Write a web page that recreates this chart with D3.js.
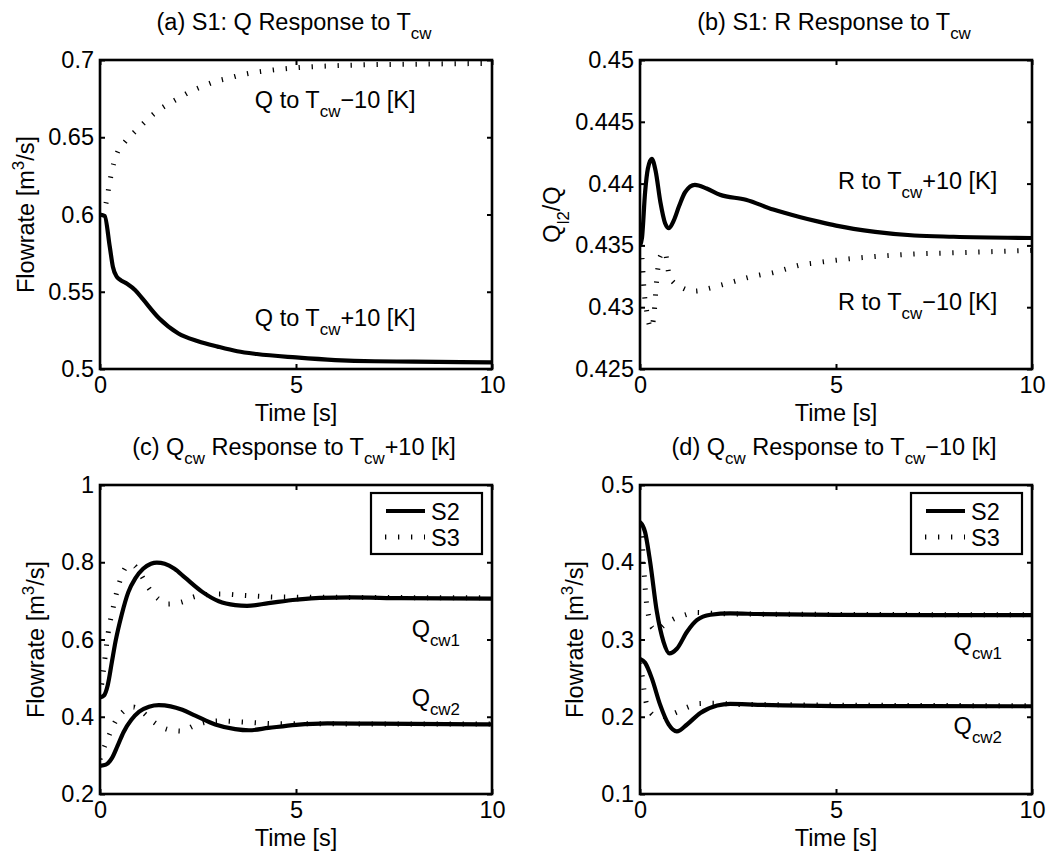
<!DOCTYPE html>
<html><head><meta charset="utf-8">
<script src="https://cdn.jsdelivr.net/npm/d3@7/dist/d3.min.js"></script>
<style>
body{margin:0;background:#fff;}
svg{display:block;font-family:"Liberation Sans",Arial,Helvetica,sans-serif;}
</style></head>
<body>
<svg id="fig" width="1056" height="866"></svg>
<script>
// ---------- DATA ----------
const xTicks = [0, 5, 10];

// (a) S1: Q response
const tA_plus = [0,0.12,0.25,0.33,0.42,0.5,0.7,0.9,1.1,1.5,2,2.5,3,3.5,4,5,6,7,8,10];
const qA_plus = [0.600,0.599,0.579,0.566,0.560,0.558,0.555,0.551,0.545,0.533,0.523,0.518,0.5145,0.5115,0.5097,0.5075,0.5058,0.505,0.5048,0.5043];
const tA_minus = [0,0.1,0.15,0.2,0.27,0.35,0.45,0.64,0.89,1.15,1.4,1.7,2.0,2.3,2.6,2.93,3.26,3.6,3.9,4.24,4.58,5,6,7,8,10];
const qA_minus = [0.600,0.603,0.607,0.614,0.624,0.633,0.6405,0.6471,0.6536,0.66,0.6657,0.6709,0.6752,0.6795,0.6828,0.686,0.6881,0.6903,0.6918,0.693,0.694,0.695,0.6963,0.697,0.6973,0.6978];
const yTicksA = [0.5, 0.55, 0.6, 0.65, 0.7];

// (b) S1: R response
const tB_plus = [0,0.05,0.13,0.2,0.3,0.4,0.52,0.64,0.74,0.86,1.0,1.15,1.4,1.7,2.04,2.7,3.4,4.07,4.58,5,6,7,8,10];
const rB_plus = [0.4350,0.4356,0.4393,0.4412,0.4420,0.4410,0.4385,0.4368,0.4364,0.4370,0.4382,0.4393,0.4399,0.4396,0.4391,0.4387,0.4379,0.4373,0.4369,0.4366,0.4361,0.4358,0.4357,0.4356];
const tB_minus = [0,0.05,0.1,0.18,0.28,0.36,0.42,0.5,0.63,0.76,1.06,1.4,1.73,2.08,2.42,2.75,3.05,3.4,3.73,4.07,4.5,5,6,7,8,9,10];
const rB_minus = [0.4350,0.4340,0.4315,0.4295,0.4283,0.4295,0.4320,0.4340,0.4345,0.4324,0.4316,0.4313,0.4315,0.4318,0.4321,0.4324,0.4326,0.4328,0.4331,0.4334,0.4336,0.4338,0.4341,0.4343,0.4344,0.4345,0.4346];
const yTicksB = [0.425, 0.43, 0.435, 0.44, 0.445, 0.45];

// (c) Qcw response to Tcw+10
const tC_s2q1 = [0,0.1,0.2,0.3,0.4,0.55,0.72,0.9,1.1,1.3,1.45,1.65,1.9,2.17,2.6,3.03,3.45,3.75,4.3,5,5.6,6.4,7.7,10];
const qC_s2q1 = [0.45,0.455,0.483,0.54,0.597,0.663,0.722,0.758,0.783,0.796,0.799,0.796,0.783,0.76,0.724,0.699,0.689,0.687,0.694,0.703,0.708,0.709,0.707,0.706];
const tC_s2q2 = [0,0.15,0.3,0.45,0.6,0.8,1.0,1.25,1.5,1.8,2.1,2.43,2.94,3.45,3.8,4.3,5,5.8,7,10];
const qC_s2q2 = [0.273,0.276,0.292,0.325,0.36,0.392,0.413,0.426,0.43,0.427,0.418,0.403,0.38,0.368,0.365,0.371,0.379,0.383,0.382,0.38];
const tC_s3q1 = [0,0.1,0.2,0.35,0.5,0.7,0.85,1.0,1.23,1.49,1.74,2.09,2.38,2.7,3.03,3.7,4.5,10];
const qC_s3q1 = [0.45,0.53,0.611,0.689,0.749,0.79,0.792,0.775,0.735,0.705,0.692,0.697,0.71,0.716,0.718,0.714,0.71,0.708];
const tC_s3q2 = [0,0.05,0.2,0.4,0.6,0.85,1.06,1.4,1.74,2.09,2.38,2.7,3.03,3.7,4.5,10];
const qC_s3q2 = [0.29,0.305,0.344,0.389,0.414,0.425,0.414,0.384,0.367,0.363,0.376,0.386,0.389,0.386,0.382,0.381];
const yTicksC = [0.2, 0.4, 0.6, 0.8, 1];

// (d) Qcw response to Tcw-10
const tD_s2q1 = [0,0.13,0.26,0.43,0.6,0.75,0.94,1.2,1.45,1.8,2.3,3,5,10];
const qD_s2q1 = [0.452,0.439,0.40,0.336,0.297,0.282,0.288,0.31,0.325,0.332,0.3337,0.333,0.3318,0.3315];
const tD_s2q2 = [0,0.13,0.3,0.51,0.73,0.94,1.2,1.54,1.97,2.3,3,5,10];
const qD_s2q2 = [0.275,0.27,0.25,0.216,0.19,0.181,0.19,0.205,0.2145,0.2166,0.2155,0.2138,0.2136];
const tD_s3q1 = [0,0.05,0.1,0.15,0.22,0.32,0.45,0.6,0.8,1.1,1.45,1.8,2.5,10];
const qD_s3q1 = [0.45,0.43,0.39,0.355,0.33,0.315,0.312,0.318,0.325,0.331,0.335,0.334,0.333,0.332];
const tD_s3q2 = [0,0.05,0.1,0.15,0.22,0.35,0.5,0.7,0.9,1.2,1.5,1.9,2.5,10];
const qD_s3q2 = [0.27,0.255,0.235,0.22,0.21,0.202,0.2,0.201,0.205,0.212,0.217,0.2175,0.216,0.2142];
const yTicksD = [0.1, 0.2, 0.3, 0.4, 0.5];

const legendLabels = ["S2", "S3"];

// ---------- DRAWING ----------
const svg = d3.select("#fig");
const FS = 23.5;

function richText(g, x, y, segs, opts = {}) {
  const size = opts.size || FS;
  const t = g.append("text").attr("x", x).attr("y", y)
    .attr("font-size", size).attr("fill", "#000")
    .attr("text-anchor", opts.anchor || "start");
  if (opts.transform) t.attr("transform", opts.transform);
  let shift = 0;
  segs.forEach(s => {
    const sp = t.append("tspan").text(s.t);
    let target = 0;
    if (s.sub) { target = size * 0.4; sp.attr("font-size", size * 0.72); }
    if (s.sup) { target = -size * 0.42; sp.attr("font-size", size * 0.72); }
    if (target - shift !== 0) sp.attr("dy", target - shift);
    shift = target;
  });
  return t;
}

function panel(cfg) {
  const g = svg.append("g");
  const x = d3.scaleLinear().domain([0, 10]).range([cfg.left, cfg.right]);
  const y = d3.scaleLinear().domain(cfg.ydom).range([cfg.bottom, cfg.top]);
  const clipId = "clip" + cfg.id;
  svg.append("clipPath").attr("id", clipId).append("rect")
    .attr("x", cfg.left).attr("y", cfg.top - 3)
    .attr("width", cfg.right - cfg.left).attr("height", cfg.bottom - cfg.top + 6);

  const line = d3.line().x(d => x(d[0])).y(d => y(d[1])).curve(d3.curveMonotoneX);
  const plot = g.append("g").attr("clip-path", `url(#${clipId})`);
  cfg.series.filter(s => s.dotted).forEach(s => {
    plot.append("path").datum(d3.zip(s.t, s.v)).attr("d", line)
      .attr("fill", "none").attr("stroke", "#000").attr("stroke-width", 5)
      .attr("stroke-dasharray", "1.3,11.7").attr("stroke-linecap", "butt");
  });
  cfg.series.filter(s => !s.dotted).forEach(s => {
    plot.append("path").datum(d3.zip(s.t, s.v)).attr("d", line)
      .attr("fill", "none").attr("stroke", "#000").attr("stroke-width", 4.2)
      .attr("stroke-linejoin", "round");
  });

  const fmt = d => String(d);
  const ax = [
    [d3.axisBottom(x).tickValues(xTicks).tickSize(-5).tickSizeOuter(0).tickPadding(7).tickFormat(fmt), `translate(0,${cfg.bottom})`],
    [d3.axisTop(x).tickValues(xTicks).tickSize(-5).tickSizeOuter(0).tickFormat(""), `translate(0,${cfg.top})`],
    [d3.axisLeft(y).tickValues(cfg.yticks).tickSize(-5).tickSizeOuter(0).tickPadding(6).tickFormat(fmt), `translate(${cfg.left},0)`],
    [d3.axisRight(y).tickValues(cfg.yticks).tickSize(-5).tickSizeOuter(0).tickFormat(""), `translate(${cfg.right},0)`]
  ];
  ax.forEach(([a, tr]) => {
    const ag = g.append("g").attr("transform", tr).call(a);
    ag.select(".domain").remove();
    ag.selectAll("line").attr("stroke", "#000").attr("stroke-width", 2);
    ag.selectAll("text").attr("font-size", FS).attr("fill", "#000")
      .attr("font-family", "Liberation Sans, Arial, sans-serif");
  });
  g.append("rect").attr("x", cfg.left).attr("y", cfg.top)
    .attr("width", cfg.right - cfg.left).attr("height", cfg.bottom - cfg.top)
    .attr("fill", "none").attr("stroke", "#000").attr("stroke-width", 2.6);

  richText(g, (cfg.left + cfg.right) / 2 - 2, cfg.titleY, cfg.title, { anchor: "middle" });
  richText(g, (cfg.left + cfg.right) / 2, cfg.bottom + 52, [{ t: "Time [s]" }], { anchor: "middle" });
  const yc = (cfg.top + cfg.bottom) / 2;
  richText(g, cfg.ylabX, yc, cfg.ylabel, { anchor: "middle", transform: `rotate(-90 ${cfg.ylabX} ${yc})` });

  cfg.notes.forEach(n => richText(g, x(n.x), y(n.y), n.segs));

  if (cfg.legend) {
    const L = cfg.right - 121, T = cfg.top + 8, W = 111, H = 61;
    g.append("rect").attr("x", L).attr("y", T).attr("width", W).attr("height", H)
      .attr("fill", "#fff").attr("stroke", "#000").attr("stroke-width", 2.2);
    g.append("line").attr("x1", L + 15).attr("x2", L + 54).attr("y1", T + 18).attr("y2", T + 18)
      .attr("stroke", "#000").attr("stroke-width", 4.2);
    g.append("line").attr("x1", L + 14).attr("x2", L + 54).attr("y1", T + 44).attr("y2", T + 44)
      .attr("stroke", "#000").attr("stroke-width", 5).attr("stroke-dasharray", "1.3,11.7");
    richText(g, L + 60, T + 27, [{ t: legendLabels[0] }]);
    richText(g, L + 60, T + 53, [{ t: legendLabels[1] }]);
  }
}

const flowLabel = [{ t: "Flowrate [m" }, { t: "3", sup: true }, { t: "/s]" }];

panel({
  id: "a", left: 100, right: 492, top: 60, bottom: 369, ydom: [0.5, 0.7], yticks: yTicksA,
  titleY: 30, ylabX: 34,
  title: [{ t: "(a) S1: Q Response to T" }, { t: "cw", sub: true }],
  ylabel: flowLabel,
  series: [{ t: tA_minus, v: qA_minus, dotted: true }, { t: tA_plus, v: qA_plus }],
  notes: [
    { x: 3.95, y: 0.669, segs: [{ t: "Q to T" }, { t: "cw", sub: true }, { t: "\u221210 [K]" }] },
    { x: 3.95, y: 0.528, segs: [{ t: "Q to T" }, { t: "cw", sub: true }, { t: "+10 [K]" }] }
  ]
});

panel({
  id: "b", left: 640, right: 1032, top: 60, bottom: 369, ydom: [0.425, 0.45], yticks: yTicksB,
  titleY: 30, ylabX: 560,
  title: [{ t: "(b) S1: R Response to T" }, { t: "cw", sub: true }],
  ylabel: [{ t: "Q" }, { t: "l2", sub: true }, { t: "/Q" }],
  series: [{ t: tB_minus, v: rB_minus, dotted: true }, { t: tB_plus, v: rB_plus }],
  notes: [
    { x: 5.05, y: 0.4396, segs: [{ t: "R to T" }, { t: "cw", sub: true }, { t: "+10 [K]" }] },
    { x: 5.05, y: 0.4298, segs: [{ t: "R to T" }, { t: "cw", sub: true }, { t: "\u221210 [K]" }] }
  ]
});

panel({
  id: "c", left: 100, right: 492, top: 485, bottom: 794, ydom: [0.2, 1], yticks: yTicksC,
  titleY: 455, ylabX: 44, legend: true,
  title: [{ t: "(c) Q" }, { t: "cw", sub: true }, { t: " Response to T" }, { t: "cw", sub: true }, { t: "+10 [k]" }],
  ylabel: flowLabel,
  series: [{ t: tC_s3q1, v: qC_s3q1, dotted: true }, { t: tC_s3q2, v: qC_s3q2, dotted: true },
           { t: tC_s2q1, v: qC_s2q1 }, { t: tC_s2q2, v: qC_s2q2 }],
  notes: [
    { x: 7.95, y: 0.607, segs: [{ t: "Q" }, { t: "cw1", sub: true }] },
    { x: 7.95, y: 0.428, segs: [{ t: "Q" }, { t: "cw2", sub: true }] }
  ]
});

panel({
  id: "d", left: 640, right: 1032, top: 485, bottom: 794, ydom: [0.1, 0.5], yticks: yTicksD,
  titleY: 455, ylabX: 583, legend: true,
  title: [{ t: "(d) Q" }, { t: "cw", sub: true }, { t: " Response to T" }, { t: "cw", sub: true }, { t: "\u221210 [k]" }],
  ylabel: flowLabel,
  series: [{ t: tD_s3q1, v: qD_s3q1, dotted: true }, { t: tD_s3q2, v: qD_s3q2, dotted: true },
           { t: tD_s2q1, v: qD_s2q1 }, { t: tD_s2q2, v: qD_s2q2 }],
  notes: [
    { x: 8.0, y: 0.2864, segs: [{ t: "Q" }, { t: "cw1", sub: true }] },
    { x: 8.0, y: 0.178, segs: [{ t: "Q" }, { t: "cw2", sub: true }] }
  ]
});
</script>
</body></html>
